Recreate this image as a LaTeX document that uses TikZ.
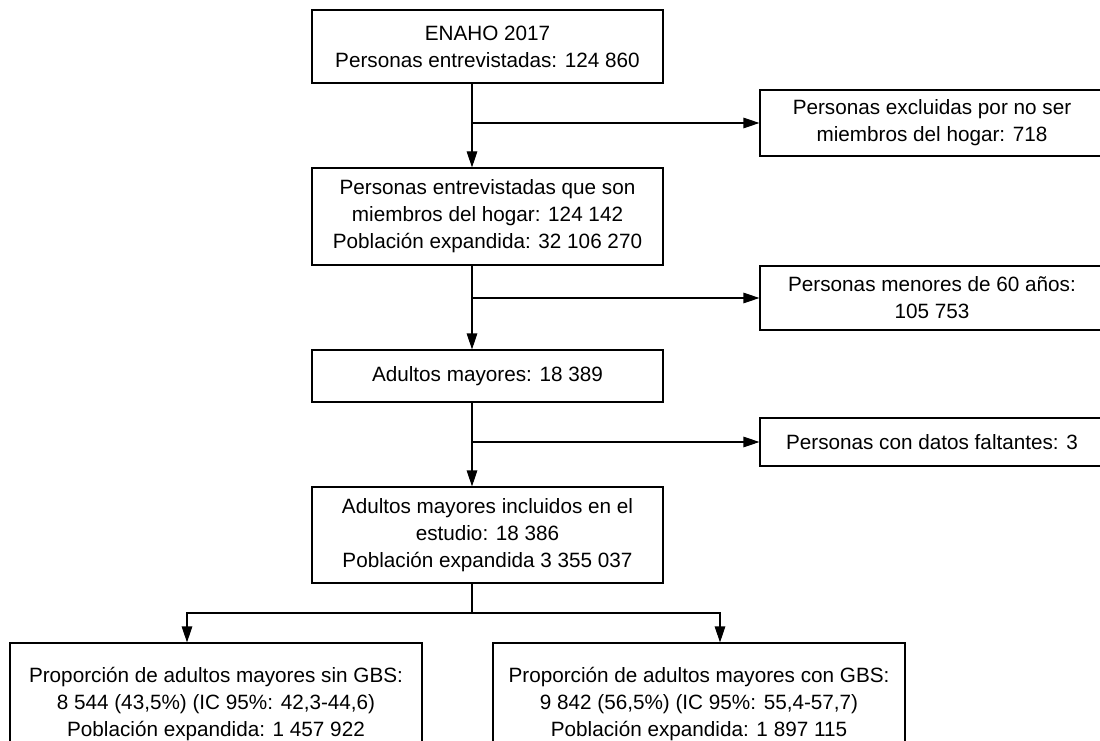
\documentclass[tikz,border=0pt]{standalone}
\usepackage{fontspec}
\setmainfont{Liberation Sans}
\usetikzlibrary{arrows.meta,calc}
\begin{document}
\begin{tikzpicture}[x=1pt,y=-1pt,
  box/.style={draw=black,line width=1.1pt,rectangle,inner sep=0pt,align=center,
    font=\fontsize{20.7}{27}\selectfont},
  conn/.style={line width=1.1pt,draw=black},
  arr/.style={conn,-{Triangle[length=16pt,width=10.5pt]}}]
\useasboundingbox (0,0) rectangle (1100,741);
\fill[white] (0,0) rectangle (1100,741);
\clip (0,0) rectangle (1100,741);
\coordinate (spine) at (472,0);
\node[box,minimum width=351pt,minimum height=73pt] (b1) at (487.5,46.5) {ENAHO 2017\\Personas entrevistadas: 124 860};
\node[box,minimum width=351pt,minimum height=97pt] (b2) at (487.5,216.5) {Personas entrevistadas que son\\miembros del hogar: 124 142\\Población expandida: 32 106 270};
\node[box,minimum width=351pt,minimum height=52pt] (b3) at (487.5,376) {Adultos mayores: 18 389};
\node[box,minimum width=351pt,minimum height=96pt] (b4) at (487.5,535) {Adultos mayores incluidos en el\\estudio: 18 386\\Población expandida 3 355 037};
\node[box,minimum width=344pt,minimum height=66pt] (ex) at (932,123) {Personas excluidas por no ser\\miembros del hogar: 718};
\node[box,minimum width=344pt,minimum height=64pt] (me) at (932,298) {Personas menores de 60 años:\\105 753};
\node[box,minimum width=344pt,minimum height=48pt] (fa) at (932,442) {Personas con datos faltantes: 3};
\node[box,minimum width=412pt,minimum height=123pt] (sin) at (216,704.5) {Proporción de adultos mayores sin GBS:\\8 544 (43,5\%) (IC 95\%: 42,3-44,6)\\Población expandida: 1 457 922};
\node[box,minimum width=412pt,minimum height=123pt] (con) at (699,704.5) {Proporción de adultos mayores con GBS:\\9 842 (56,5\%) (IC 95\%: 55,4-57,7)\\Población expandida: 1 897 115};
% spine connectors
\draw[arr] (b1.south -| spine) -- (b2.north -| spine);
\draw[arr] (spine |- ex.west) -- (ex.west);
\draw[arr] (b2.south -| spine) -- (b3.north -| spine);
\draw[arr] (spine |- me.west) -- (me.west);
\draw[arr] (b3.south -| spine) -- (b4.north -| spine);
\draw[arr] (spine |- fa.west) -- (fa.west);
% fork
\coordinate (fork) at (472,613);
\draw[conn] (b4.south -| spine) -- (fork);
\draw[arr] (fork) -| ([xshift=-29pt]sin.north);
\draw[arr] (fork) -| ([xshift=21pt]con.north);
\end{tikzpicture}
\end{document}
